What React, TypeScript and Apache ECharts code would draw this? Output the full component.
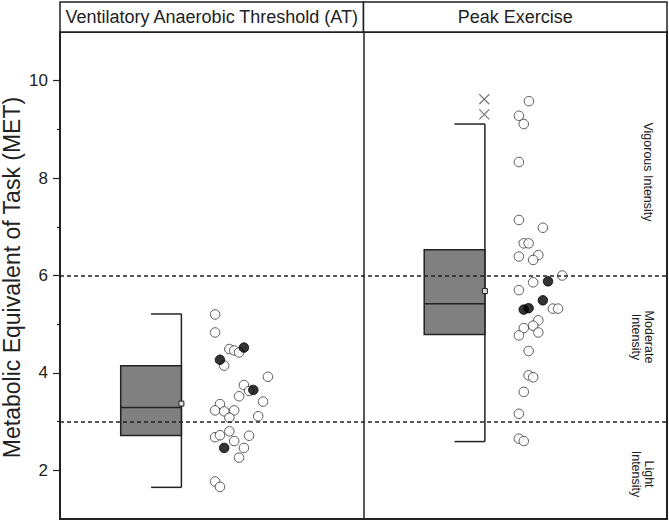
import { useEffect, useRef } from 'react';
import * as echarts from 'echarts';

// panel titles, axis title and intensity zones
const panels = ['Ventilatory Anaerobic Threshold (AT)', 'Peak Exercise'];
const yTitle = 'Metabolic Equivalent of Task (MET)';
const zones = ['Vigorous Intensity', 'Moderate\nIntensity', 'Light\nIntensity'];
const yTicks = [2, 4, 6, 8, 10];
const yMinorTicks = [3, 5, 7, 9];
const thresholds = [3, 6];

// box stats: [centre, lowerWhisker, q1, median, q3, upperWhisker, mean]
const atBox = [3, 1.65, 2.715, 3.29, 4.145, 5.21, 3.37];
const peakBox = [13, 2.59, 4.79, 5.42, 6.53, 9.11, 5.68];

// individual subjects [jitter x, MET]
const atOpen = [
  [5.11, 5.2], [5.11, 4.83], [5.58, 4.49], [5.74, 4.46], [5.9, 4.42], [5.41, 4.15],
  [6.85, 3.92], [6.06, 3.75], [6.23, 3.63], [5.9, 3.52], [6.69, 3.41], [5.27, 3.36],
  [5.11, 3.23], [5.41, 3.21], [5.74, 3.23], [5.58, 3.08], [6.53, 3.11], [5.11, 2.68],
  [5.27, 2.72], [5.58, 2.8], [6.23, 2.71], [5.74, 2.6], [6.06, 2.46], [5.9, 2.26],
  [5.11, 1.77], [5.27, 1.66],
];
const atFilled = [[6.06, 4.52], [5.27, 4.27], [6.37, 3.65], [5.41, 2.46]];

const peakOpen = [
  [15.45, 9.58], [15.12, 9.28], [15.28, 9.11], [15.12, 8.33], [15.12, 7.14], [15.91, 6.98],
  [15.28, 6.66], [15.44, 6.66], [15.12, 6.39], [15.76, 6.42], [15.59, 6.32], [16.55, 6.0],
  [15.59, 5.86], [15.12, 5.7], [16.24, 5.32], [16.41, 5.32], [15.76, 5.08], [15.59, 4.97],
  [15.28, 4.92], [15.76, 4.83], [15.12, 4.77], [15.44, 4.45], [15.44, 3.95], [15.59, 3.91],
  [15.28, 3.61], [15.12, 3.16], [15.12, 2.65], [15.28, 2.6],
];
const peakFilled = [[16.08, 5.88], [15.91, 5.49], [15.28, 5.3], [15.44, 5.33]];
const peakOutliers = [[13.98, 9.62], [13.98, 9.31]];

const W = 669;
const H = 522;
const G = { left: 60, right: 2, top: 32, bottom: 3 };
const FONT = '"Liberation Sans", Arial, sans-serif';
const INK = '#222';

export default function App() {
  const chartRef = useRef<HTMLDivElement>(null);

  useEffect(() => {
    document.body.style.margin = '0';
    if (!chartRef.current) return;
    const chart = echarts.init(chartRef.current, null, { renderer: 'svg' });

    const plotW = W - G.left - G.right;
    const plotH = H - G.top - G.bottom;
    const midX = G.left + plotW / 2;
    const rightX = W - G.right;

    const renderBox = (_p: any, api: any) => {
      const x = api.value(0);
      const [xl, yq3] = api.coord([x - 1, api.value(4)]);
      const [xr, yq1] = api.coord([x + 1, api.value(2)]);
      const [xc, ymed] = api.coord([x, api.value(3)]);
      const yhi = api.coord([x, api.value(5)])[1];
      const ylo = api.coord([x, api.value(1)])[1];
      const ymean = api.coord([x, api.value(6)])[1];
      const stroke = { stroke: INK, lineWidth: 1.5, fill: 'none' };
      return {
        type: 'group',
        children: [
          { type: 'line', shape: { x1: xr, y1: yhi, x2: xr, y2: ylo }, style: stroke },
          { type: 'line', shape: { x1: xc, y1: yhi, x2: xr, y2: yhi }, style: stroke },
          { type: 'line', shape: { x1: xc, y1: ylo, x2: xr, y2: ylo }, style: stroke },
          {
            type: 'rect',
            shape: { x: xl, y: yq3, width: xr - xl, height: yq1 - yq3 },
            style: { fill: '#808080', stroke: INK, lineWidth: 1.5 },
          },
          { type: 'line', shape: { x1: xl, y1: ymed, x2: xr, y2: ymed }, style: stroke },
          {
            type: 'rect',
            shape: { x: xr - 2.5, y: ymean - 2.5, width: 5, height: 5 },
            style: { fill: '#ddd', stroke: INK, lineWidth: 1 },
          },
        ],
      };
    };

    const openStyle = { color: '#fff', borderColor: '#333', borderWidth: 1 };
    const filledStyle = { color: '#000', borderColor: '#000', borderWidth: 1 };

    const sideLabel = (text: string, x: number, y: number) => ({
      type: 'text',
      x,
      y,
      rotation: -Math.PI / 2,
      style: {
        text,
        fill: INK,
        font: `12.5px ${FONT}`,
        align: 'center',
        verticalAlign: 'middle',
        lineHeight: 13,
      },
    });

    const option: echarts.EChartsOption = {
      animation: false,
      grid: { ...G, show: true, borderColor: INK, borderWidth: 2, outerBoundsMode: 'none', containLabel: false } as any,
      xAxis: { type: 'value', min: 0, max: 20, show: false },
      yAxis: [
        {
          type: 'value',
          min: 1,
          max: 11,
          axisLine: { show: true, lineStyle: { color: INK, width: 2 } },
          axisTick: { show: true, length: 7, customValues: yTicks, lineStyle: { color: INK, width: 1.2 } },
          axisLabel: { customValues: yTicks, fontSize: 17, color: INK, fontFamily: FONT, margin: 12 },
          splitLine: { show: false },
        },
        {
          type: 'value',
          min: 1,
          max: 11,
          position: 'left',
          axisLine: { show: false },
          axisTick: { show: true, length: 3, customValues: yMinorTicks, lineStyle: { color: INK, width: 1.2 } },
          axisLabel: { show: false, customValues: yMinorTicks },
          splitLine: { show: false },
        },
      ] as any,
      graphic: [
        {
          type: 'text',
          x: 12,
          y: G.top + plotH / 2 + 2,
          rotation: Math.PI / 2,
          style: { text: yTitle, fill: INK, font: `23px ${FONT}`, align: 'center', verticalAlign: 'middle' },
        },
        {
          type: 'rect',
          shape: { x: G.left, y: 2, width: midX - G.left, height: G.top - 2 },
          style: { fill: '#fff', stroke: INK, lineWidth: 1.5 },
        },
        {
          type: 'rect',
          shape: { x: midX, y: 2, width: rightX - midX, height: G.top - 2 },
          style: { fill: '#fff', stroke: INK, lineWidth: 1.5 },
        },
        {
          type: 'text',
          x: (G.left + midX) / 2,
          y: 17,
          style: { text: panels[0], fill: INK, font: `18px ${FONT}`, align: 'center', verticalAlign: 'middle' },
        },
        {
          type: 'text',
          x: (midX + rightX) / 2,
          y: 17,
          style: { text: panels[1], fill: INK, font: `18px ${FONT}`, align: 'center', verticalAlign: 'middle' },
        },
        sideLabel(zones[0], 648, 172),
        sideLabel(zones[1], 642, 337),
        sideLabel(zones[2], 642, 474),
      ] as any,
      series: [
        {
          type: 'scatter',
          data: [],
          z: 1,
          markLine: {
            silent: true,
            symbol: 'none',
            label: { show: false },
            data: [
              ...thresholds.map((v) => ({
                yAxis: v,
                lineStyle: { type: [4, 3] as any, color: INK, width: 1.5 },
              })),
              { xAxis: 10, lineStyle: { type: 'solid' as const, color: INK, width: 1.5 } },
            ],
          },
        },
        {
          type: 'custom',
          z: 2,
          renderItem: renderBox as any,
          encode: { x: 0, y: 1 },
          data: [atBox, peakBox],
        },
        {
          type: 'scatter',
          z: 3,
          symbol: 'path://M0,0L10,10M10,0L0,10',
          symbolSize: 10,
          itemStyle: { color: 'none', borderColor: '#555', borderWidth: 1.2 },
          data: peakOutliers,
        },
        { type: 'scatter', z: 3, symbolSize: 9.5, itemStyle: openStyle, data: atOpen },
        { type: 'scatter', z: 3, symbolSize: 9.5, itemStyle: openStyle, data: peakOpen },
        { type: 'scatter', z: 4, symbolSize: 9.5, itemStyle: filledStyle, data: atFilled },
        { type: 'scatter', z: 4, symbolSize: 9.5, itemStyle: filledStyle, data: peakFilled },
      ],
    };

    chart.setOption(option);

    const onResize = () => chart.resize();
    window.addEventListener('resize', onResize);
    return () => {
      window.removeEventListener('resize', onResize);
      chart.dispose();
    };
  }, []);

  return <div ref={chartRef} style={{ width: W, height: H }} />;
}
